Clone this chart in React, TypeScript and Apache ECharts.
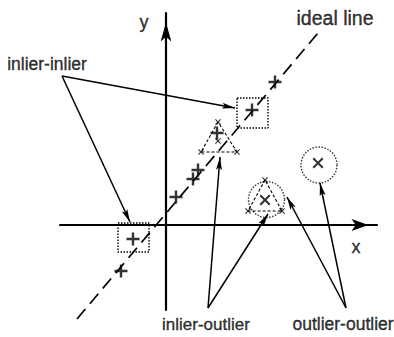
import React, { useEffect, useRef } from "react";
import * as echarts from "echarts";

// Data coordinates: origin at the axes crossing, 1 unit = 10 px
const inlierPlus: number[][] = [
  [10.9, 14.3], [8.6, 11.5], [5.1, 9.2], [3.2, 5.5], [2.7, 4.6], [1.0, 2.8], [-3.3, -1.4], [-4.5, -4.6],
];
const smallCrosses: number[][] = [
  [5.2, 10.3], [5.2, 8.4], [3.5, 7.3], [7.1, 7.3], [9.9, 4.5], [8.2, 1.4], [11.6, 1.4],
];
const outlierCrosses: number[][] = [[9.9, 2.5], [15.2, 6.2]];
const outlierCircles: number[][] = [[10.05, 2.55], [15.3, 6.0]];
const idealLine: number[][] = [[-8.9, -9.4], [15.2, 19.2]];
const inlierBoxes: number[][][] = [
  [[-4.8, 0.2], [-1.7, 0.2], [-1.7, -2.7], [-4.8, -2.7]],
  [[7.1, 12.7], [10.2, 12.7], [10.2, 9.7], [7.1, 9.7]],
];
const triangles: number[][][] = [
  [[5.2, 10.3], [3.5, 7.3], [7.1, 7.3]],
  [[9.9, 4.5], [8.2, 1.4], [11.6, 1.4]],
];
const arrows: number[][][] = [
  [[-10.4, 14.9], [6.9, 11.7]],
  [[-10.4, 14.9], [-3.6, 0.3]],
  [[4.2, -8.3], [5.4, 6.8]],
  [[4.2, -8.3], [10.2, 1.1]],
  [[18.0, -8.3], [12.1, 2.8]],
  [[18.0, -8.3], [15.4, 4.2]],
];
const labelNames: string[] = ["inlier-inlier", "ideal line", "inlier-outlier", "outlier-outlier", "y", "x"];
const labelPositions: number[][] = [
  [-11.9, 16.1], [16.9, 20.7], [4.0, -9.9], [17.7, -9.9], [-2.2, 20.3], [19.0, -2.2],
];

const PLUS = "path://M5.3,0H7.7V5.3H13V7.7H7.7V13H5.3V7.7H0V5.3H5.3Z";
const CROSS = "path://M0,1.6L1.6,0L6,4.4L10.4,0L12,1.6L7.6,6L12,10.4L10.4,12L6,7.6L1.6,12L0,10.4L4.4,6Z";
// arrow head whose tip sits at the centre of its box
const HEAD = "path://M5,12L10,24L5,21.5L0,24Z M5,0";

const FONT = "'Liberation Sans', Arial, Helvetica, sans-serif";
const labelSize: Record<string, number> = {
  "inlier-inlier": 17.5,
  "ideal line": 19.5,
  "inlier-outlier": 17,
  "outlier-outlier": 17.5,
  y: 18,
  x: 18,
};

export default function App() {
  const ref = useRef<HTMLDivElement>(null);
  useEffect(() => {
    if (!ref.current) return;
    const chart = echarts.init(ref.current, undefined, { renderer: "svg" });
    const axisCommon = {
      type: "value" as const,
      axisTick: { show: false },
      axisLabel: { show: false },
      splitLine: { show: false },
    };
    const closed = (pts: number[][]) => [...pts, pts[0]];
    const series: any[] = [
      {
        type: "line",
        data: idealLine,
        symbol: "none",
        clip: false,
        silent: true,
        lineStyle: { color: "#000", width: 1.7, type: [13, 7] },
        z: 2,
      },
      ...inlierBoxes.map((b) => ({
        type: "line",
        data: closed(b),
        symbol: "none",
        clip: false,
        silent: true,
        lineStyle: { color: "#000", width: 1.4, type: [1.5, 1.5] },
        z: 2,
      })),
      ...triangles.map((t) => ({
        type: "line",
        data: closed(t),
        symbol: "none",
        clip: false,
        silent: true,
        lineStyle: { color: "#000", width: 1.1, type: [3, 2] },
        z: 2,
      })),
      {
        type: "scatter",
        data: outlierCircles,
        symbol: "circle",
        symbolSize: 36,
        clip: false,
        silent: true,
        itemStyle: { color: "rgba(0,0,0,0)", borderColor: "#000", borderWidth: 1.4, borderType: [1.5, 1.5] },
        z: 3,
      },
      {
        type: "scatter",
        data: inlierPlus,
        symbol: PLUS,
        symbolSize: 13,
        clip: false,
        silent: true,
        itemStyle: { color: "#000" },
        z: 4,
      },
      {
        type: "scatter",
        data: smallCrosses,
        symbol: CROSS,
        symbolSize: 6,
        clip: false,
        silent: true,
        itemStyle: { color: "#000" },
        z: 4,
      },
      {
        type: "scatter",
        data: outlierCrosses,
        symbol: CROSS,
        symbolSize: 11,
        clip: false,
        silent: true,
        itemStyle: { color: "#000" },
        z: 4,
      },
      {
        type: "lines",
        coordinateSystem: "cartesian2d",
        data: arrows.map((a) => ({ coords: a })),
        symbol: ["none", HEAD],
        symbolSize: [0, [6, 26]],
        clip: false,
        silent: true,
        lineStyle: { color: "#000", width: 1.5, opacity: 1, curveness: 0 },
        z: 5,
      },
      {
        type: "scatter",
        data: labelNames.map((n, i) => ({
          name: n,
          value: labelPositions[i],
          label: { fontSize: labelSize[n] },
        })),
        symbolSize: 1,
        clip: false,
        silent: true,
        itemStyle: { color: "rgba(0,0,0,0)" },
        label: {
          show: true,
          position: "inside",
          formatter: "{b}",
          color: "#000",
          fontFamily: FONT,
          fontSize: 17,
          textBorderColor: "#000",
          textBorderWidth: 0.4,
        },
        z: 6,
      },
    ];
    chart.setOption({
      animation: false,
      backgroundColor: "#fff",
      grid: { left: 60, right: 17, top: 13, bottom: 27, outerBoundsMode: "none" },
      xAxis: {
        ...axisCommon,
        min: -10.6,
        max: 21.1,
        axisLine: {
          show: true,
          onZero: true,
          symbol: ["none", "arrow"],
          symbolSize: [9, 17],
          symbolOffset: [0, -8.5],
          lineStyle: { color: "#000", width: 2.2 },
        },
      },
      yAxis: {
        ...axisCommon,
        min: -8.5,
        max: 21.2,
        axisLine: {
          show: true,
          onZero: true,
          symbol: ["none", "arrow"],
          symbolSize: [8, 19],
          symbolOffset: [0, -9.5],
          lineStyle: { color: "#000", width: 2.2 },
        },
      },
      series,
    });
    return () => chart.dispose();
  }, []);
  return (
    <div
      ref={ref}
      style={{ position: "absolute", left: 0, top: 0, width: 394, height: 337, background: "#fff" }}
    />
  );
}
